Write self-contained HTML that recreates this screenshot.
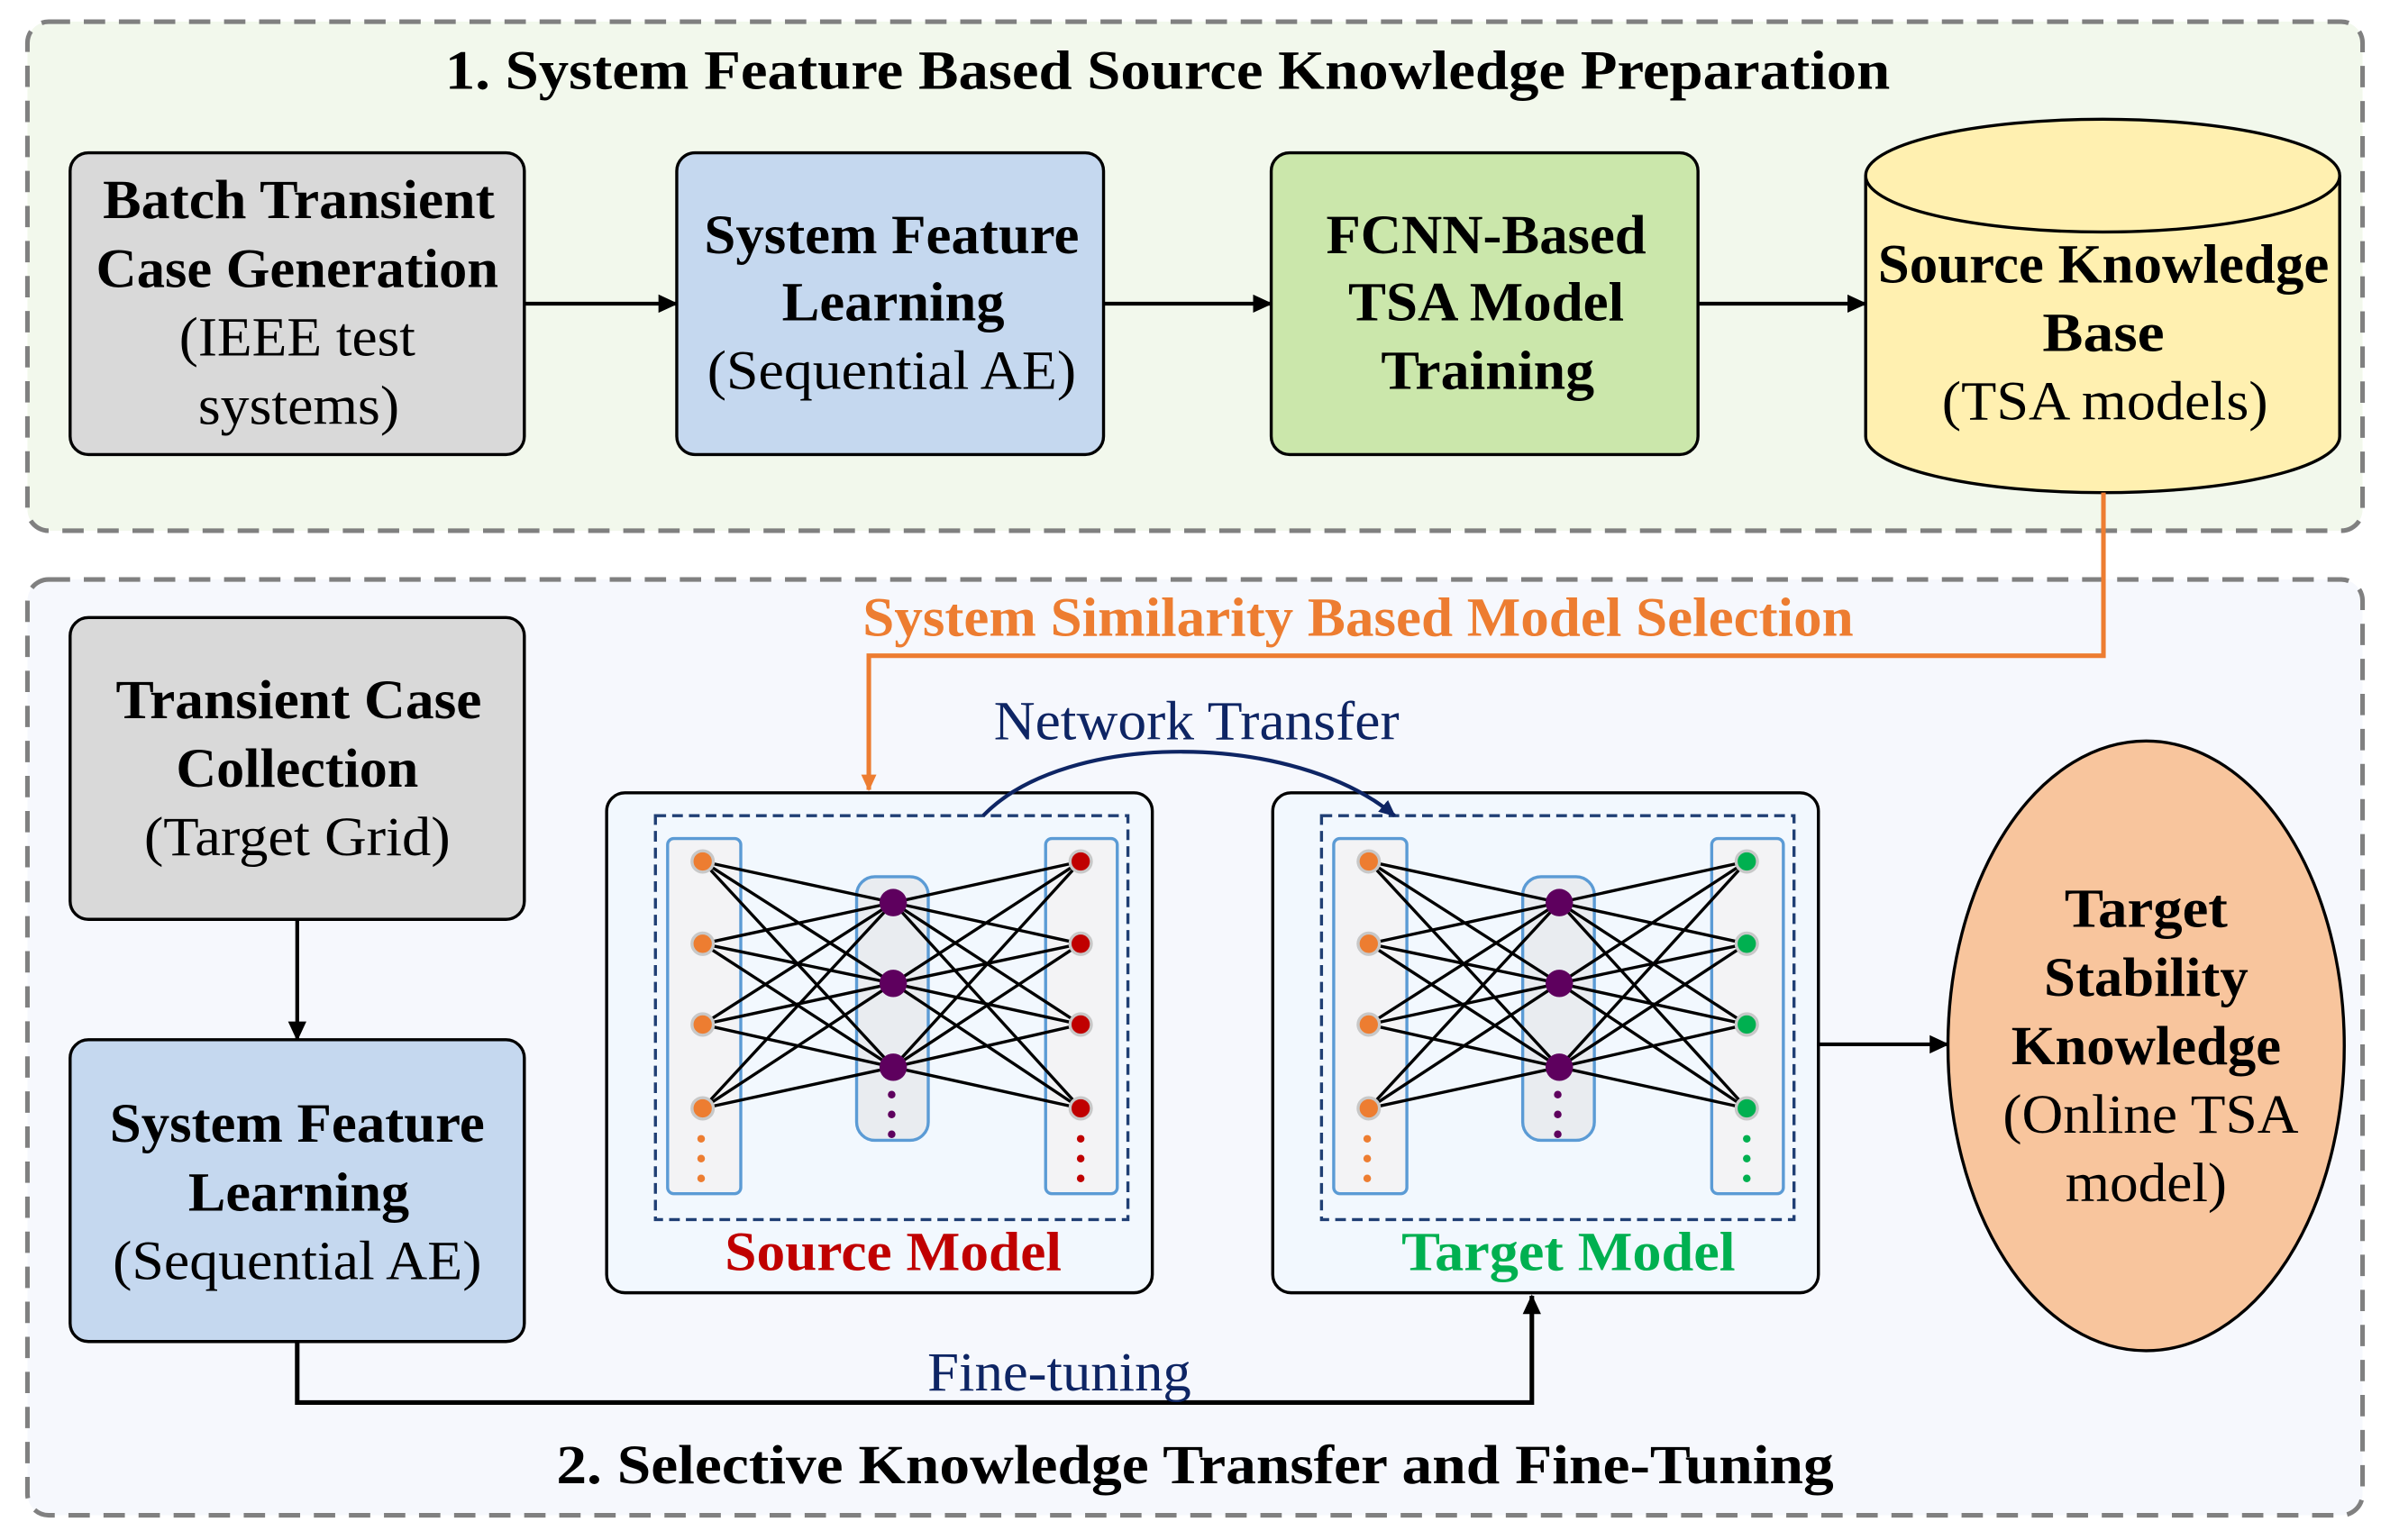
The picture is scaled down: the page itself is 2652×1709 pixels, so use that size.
<!DOCTYPE html>
<html><head><meta charset="utf-8">
<style>
html,body{margin:0;padding:0;background:#fff;}
svg{display:block;}
text{font-family:"Liberation Serif","Times New Roman",serif;}
.b{font-weight:bold;font-size:36px;}
.n{font-size:36px;}
</style></head>
<body>
<svg width="2652" height="1709" viewBox="0 0 1568 1010" xmlns="http://www.w3.org/2000/svg">
<defs>
<marker id="ao" markerWidth="12" markerHeight="12" refX="10" refY="6" orient="auto" markerUnits="userSpaceOnUse"><path d="M0,1 L11,6 L0,11 z" fill="#ed7d31"/></marker>
<marker id="an" markerWidth="12" markerHeight="12" refX="10" refY="6" orient="auto" markerUnits="userSpaceOnUse"><path d="M0,1 L11,6 L0,11 z" fill="#0e2564"/></marker>
<marker id="a2" markerWidth="14" markerHeight="14" refX="12" refY="7" orient="auto" markerUnits="userSpaceOnUse"><path d="M0,1 L13,7 L0,13 z" fill="#000"/></marker>
<g id="lines" stroke="#000" stroke-width="2">
<path d="M461,565L586,592M461,565L586,645M461,565L586,700M461,619L586,592M461,619L586,645M461,619L586,700M461,672L586,592M461,672L586,645M461,672L586,700M461,727L586,592M461,727L586,645M461,727L586,700M586,592L709,565M586,592L709,619M586,592L709,672M586,592L709,727M586,645L709,565M586,645L709,619M586,645L709,672M586,645L709,727M586,700L709,565M586,700L709,619M586,700L709,672M586,700L709,727"/>
</g>
<g id="frame">
<rect x="398" y="520" width="358" height="328" rx="12" fill="#f2f8fe" stroke="#000" stroke-width="2"/>
<rect x="430" y="535" width="310" height="265" fill="none" stroke="#203f74" stroke-width="2" stroke-dasharray="7,4"/>
<rect x="438" y="550" width="48" height="233" rx="4" fill="#f3f3f5" stroke="#5b9bd5" stroke-width="2"/>
<rect x="562" y="575" width="47" height="173" rx="12" fill="#e9ecf0" stroke="#5b9bd5" stroke-width="2"/>
<rect x="686" y="550" width="47" height="233" rx="4" fill="#f3f3f5" stroke="#5b9bd5" stroke-width="2"/>
</g>
</defs>

<rect x="18" y="14" width="1532" height="334" rx="14" fill="#f2f8ec" stroke="#808080" stroke-width="3" stroke-dasharray="14,9"/>
<text x="766" y="58" text-anchor="middle" class="b" textLength="948" lengthAdjust="spacingAndGlyphs">1. System Feature Based Source Knowledge Preparation</text>

<rect x="46" y="100" width="298" height="198" rx="12" fill="#d9d9d9" stroke="#000" stroke-width="2"/>
<text x="196" y="143" text-anchor="middle" class="b" textLength="257" lengthAdjust="spacingAndGlyphs">Batch Transient</text>
<text x="195" y="188" text-anchor="middle" class="b" textLength="264" lengthAdjust="spacingAndGlyphs">Case Generation</text>
<text x="195" y="233" text-anchor="middle" class="n" textLength="155" lengthAdjust="spacingAndGlyphs">(IEEE test</text>
<text x="196" y="278" text-anchor="middle" class="n" textLength="132" lengthAdjust="spacingAndGlyphs">systems)</text>

<rect x="444" y="100" width="280" height="198" rx="12" fill="#c5d8ef" stroke="#000" stroke-width="2"/>
<text x="585" y="166" text-anchor="middle" class="b" textLength="246" lengthAdjust="spacingAndGlyphs">System Feature</text>
<text x="586" y="210" text-anchor="middle" class="b" textLength="146" lengthAdjust="spacingAndGlyphs">Learning</text>
<text x="585" y="255" text-anchor="middle" class="n" textLength="242" lengthAdjust="spacingAndGlyphs">(Sequential AE)</text>

<rect x="834" y="100" width="280" height="198" rx="12" fill="#cbe7ab" stroke="#000" stroke-width="2"/>
<text x="975" y="166" text-anchor="middle" class="b" textLength="210" lengthAdjust="spacingAndGlyphs">FCNN-Based</text>
<text x="975" y="210" text-anchor="middle" class="b" textLength="181" lengthAdjust="spacingAndGlyphs">TSA Model</text>
<text x="976" y="255" text-anchor="middle" class="b" textLength="140" lengthAdjust="spacingAndGlyphs">Training</text>

<path d="M1224,115 L1224,286 A155.5,37 0 0 0 1535,286 L1535,115" fill="#fff0b0" stroke="#000" stroke-width="2"/>
<ellipse cx="1379.5" cy="115" rx="155.5" ry="37" fill="#fff0b0" stroke="#000" stroke-width="2"/>
<text x="1380" y="185" text-anchor="middle" class="b" textLength="296" lengthAdjust="spacingAndGlyphs">Source Knowledge</text>
<text x="1380" y="230" text-anchor="middle" class="b" textLength="80" lengthAdjust="spacingAndGlyphs">Base</text>
<text x="1381" y="275" text-anchor="middle" class="n" textLength="214" lengthAdjust="spacingAndGlyphs">(TSA models)</text>

<line x1="344" y1="199" x2="444" y2="199" stroke="#000" stroke-width="2.5" marker-end="url(#a2)"/>
<line x1="724" y1="199" x2="834" y2="199" stroke="#000" stroke-width="2.5" marker-end="url(#a2)"/>
<line x1="1114" y1="199" x2="1224" y2="199" stroke="#000" stroke-width="2.5" marker-end="url(#a2)"/>

<rect x="18" y="380" width="1532" height="614" rx="14" fill="#f6f8fd" stroke="#808080" stroke-width="3" stroke-dasharray="14,9"/>
<text x="784" y="973" text-anchor="middle" class="b" textLength="838" lengthAdjust="spacingAndGlyphs">2. Selective Knowledge Transfer and Fine-Tuning</text>

<rect x="46" y="405" width="298" height="198" rx="12" fill="#d9d9d9" stroke="#000" stroke-width="2"/>
<text x="196" y="471" text-anchor="middle" class="b" textLength="240" lengthAdjust="spacingAndGlyphs">Transient Case</text>
<text x="195" y="516" text-anchor="middle" class="b" textLength="159" lengthAdjust="spacingAndGlyphs">Collection</text>
<text x="195" y="561" text-anchor="middle" class="n" textLength="201" lengthAdjust="spacingAndGlyphs">(Target Grid)</text>

<line x1="195" y1="603" x2="195" y2="682" stroke="#000" stroke-width="2.5" marker-end="url(#a2)"/>

<rect x="46" y="682" width="298" height="198" rx="12" fill="#c5d8ef" stroke="#000" stroke-width="2"/>
<text x="195" y="749" text-anchor="middle" class="b" textLength="246" lengthAdjust="spacingAndGlyphs">System Feature</text>
<text x="196" y="794" text-anchor="middle" class="b" textLength="145" lengthAdjust="spacingAndGlyphs">Learning</text>
<text x="195" y="839" text-anchor="middle" class="n" textLength="242" lengthAdjust="spacingAndGlyphs">(Sequential AE)</text>

<polyline points="195,880 195,920 1005,920 1005,850" fill="none" stroke="#000" stroke-width="3" marker-end="url(#a2)"/>
<text x="695" y="912" text-anchor="middle" class="n" fill="#0e2564" textLength="173" lengthAdjust="spacingAndGlyphs">Fine-tuning</text>

<polyline points="1380,323 1380,430 570,430 570,518" fill="none" stroke="#ed7d31" stroke-width="3" marker-end="url(#ao)"/>
<text x="891" y="417" text-anchor="middle" class="b" fill="#ed7d31" textLength="650" lengthAdjust="spacingAndGlyphs">System Similarity Based Model Selection</text>

<use href="#frame"/>
<use href="#lines"/>
<g fill="#ed7d31" stroke="#c8c8c8" stroke-width="2">
<circle cx="461" cy="565" r="7"/><circle cx="461" cy="619" r="7"/><circle cx="461" cy="672" r="7"/><circle cx="461" cy="727" r="7"/></g>
<g fill="#ed7d31"><circle cx="460" cy="747" r="2.5"/><circle cx="460" cy="760" r="2.5"/><circle cx="460" cy="773" r="2.5"/></g>
<g fill="#5e005e"><circle cx="586" cy="592" r="9"/><circle cx="586" cy="645" r="9"/><circle cx="586" cy="700" r="9"/>
<circle cx="585" cy="718" r="2.5"/><circle cx="585" cy="731" r="2.5"/><circle cx="585" cy="744" r="2.5"/></g>
<g fill="#c00000" stroke="#c8c8c8" stroke-width="2">
<circle cx="709" cy="565" r="7"/><circle cx="709" cy="619" r="7"/><circle cx="709" cy="672" r="7"/><circle cx="709" cy="727" r="7"/></g>
<g fill="#c00000"><circle cx="709" cy="747" r="2.5"/><circle cx="709" cy="760" r="2.5"/><circle cx="709" cy="773" r="2.5"/></g>
<text x="586" y="833" text-anchor="middle" class="b" fill="#c00000" textLength="221" lengthAdjust="spacingAndGlyphs">Source Model</text>

<g transform="translate(437,0)">
<use href="#frame"/>
<use href="#lines"/>
<g fill="#ed7d31" stroke="#c8c8c8" stroke-width="2">
<circle cx="461" cy="565" r="7"/><circle cx="461" cy="619" r="7"/><circle cx="461" cy="672" r="7"/><circle cx="461" cy="727" r="7"/></g>
<g fill="#ed7d31"><circle cx="460" cy="747" r="2.5"/><circle cx="460" cy="760" r="2.5"/><circle cx="460" cy="773" r="2.5"/></g>
<g fill="#5e005e"><circle cx="586" cy="592" r="9"/><circle cx="586" cy="645" r="9"/><circle cx="586" cy="700" r="9"/>
<circle cx="585" cy="718" r="2.5"/><circle cx="585" cy="731" r="2.5"/><circle cx="585" cy="744" r="2.5"/></g>
<g fill="#00b050" stroke="#c8c8c8" stroke-width="2">
<circle cx="709" cy="565" r="7"/><circle cx="709" cy="619" r="7"/><circle cx="709" cy="672" r="7"/><circle cx="709" cy="727" r="7"/></g>
<g fill="#00b050"><circle cx="709" cy="747" r="2.5"/><circle cx="709" cy="760" r="2.5"/><circle cx="709" cy="773" r="2.5"/></g>
<text x="592" y="833" text-anchor="middle" class="b" fill="#00b050" textLength="219" lengthAdjust="spacingAndGlyphs">Target Model</text>
</g>

<path d="M645,535 C700,478 850,480 915,535" fill="none" stroke="#0e2564" stroke-width="2.5" marker-end="url(#an)"/>
<text x="785" y="485" text-anchor="middle" class="n" fill="#0e2564" textLength="266" lengthAdjust="spacingAndGlyphs">Network Transfer</text>

<line x1="1192" y1="685" x2="1278" y2="685" stroke="#000" stroke-width="2.5" marker-end="url(#a2)"/>
<ellipse cx="1408" cy="686" rx="130" ry="200" fill="#f8c59d" stroke="#000" stroke-width="2"/>
<text x="1408" y="608" text-anchor="middle" class="b" textLength="107" lengthAdjust="spacingAndGlyphs">Target</text>
<text x="1408" y="653" text-anchor="middle" class="b" textLength="134" lengthAdjust="spacingAndGlyphs">Stability</text>
<text x="1408" y="698" text-anchor="middle" class="b" textLength="177" lengthAdjust="spacingAndGlyphs">Knowledge</text>
<text x="1411" y="743" text-anchor="middle" class="n" textLength="194" lengthAdjust="spacingAndGlyphs">(Online TSA</text>
<text x="1408" y="788" text-anchor="middle" class="n" textLength="106" lengthAdjust="spacingAndGlyphs">model)</text>
</svg>
</body></html>
